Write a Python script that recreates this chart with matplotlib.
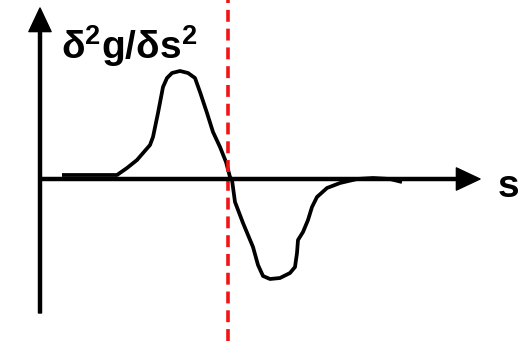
import numpy as np
import matplotlib.pyplot as plt

plt.rcParams['mathtext.fontset'] = 'custom'
plt.rcParams['mathtext.bf'] = 'Liberation Sans:bold'
plt.rcParams['mathtext.rm'] = 'Liberation Sans:bold'

# second derivative sketch, s measured from the y axis
s = [22, 40, 77, 87, 97, 110, 113, 118, 123, 127, 132, 140, 148, 155, 160, 167,
     173, 180, 186, 190, 192, 195, 203, 213, 218, 223, 230, 240, 250, 255, 257,
     258, 263, 268, 272, 277, 287, 300, 317, 333, 350, 362]
d2g = [4, 4, 4, 11, 19, 34, 42, 66, 92, 101, 106, 108, 106, 101, 87, 66,
       47, 32, 17, 2, -1, -23, -44, -68, -86, -97, -100, -99, -94, -88, -74,
       -61, -53, -41, -28, -18, -9, -4, 0, 1, 0, -3]
s_mark = 188
ylabel = r'$\mathbf{\delta^2g/\delta s^2}$'
xlabel = 's'

fig = plt.figure(figsize=(5.21, 3.41), dpi=100)
ax = fig.add_axes([0, 0, 1, 1])
ax.set_xlim(-40, 481)
ax.set_ylim(-162, 179)
ax.axis('off')

lw = 2.2
arrow = dict(facecolor='black', edgecolor='black', width=lw, headwidth=16,
             headlength=17, shrink=0)
ax.annotate('', xy=(440, 0), xytext=(0, 0), arrowprops=arrow)
ax.annotate('', xy=(0, 171), xytext=(0, -134), arrowprops=arrow)

ax.plot(s, d2g, color='black', lw=2.7, solid_joinstyle='round',
        solid_capstyle='butt')
ax.axvline(s_mark, color='#f21414', lw=2.6, dashes=(3.3, 1.9))

ax.text(21, 120, ylabel, fontsize=28, ha='left', va='baseline')
ax.text(458, -18, xlabel, fontsize=28, fontweight='bold', family='Liberation Sans',
        ha='left', va='baseline')

fig.savefig('out.png', dpi=100)
